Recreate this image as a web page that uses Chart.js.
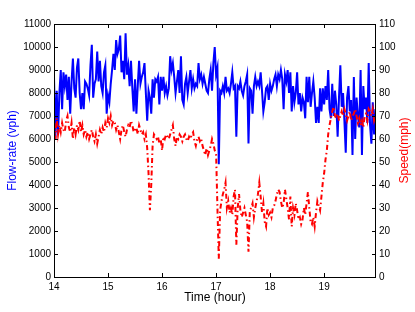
<!DOCTYPE html>
<html>
<head>
<meta charset="utf-8">
<script src="https://cdn.jsdelivr.net/npm/chart.js@4/dist/chart.umd.min.js"></script>
<style>
  html, body { margin: 0; padding: 0; background: #fff; }
  #wrap { width: 415px; height: 312px; }
</style>
</head>
<body>
<div id="wrap"><canvas id="flowChart"></canvas></div>
<script>
// samples every 0.025 h (1.5 min) starting at 14:00
const startHour = 14;
const stepHour = 0.025;

// flow-rate, vph (left axis)
const flow = [
  8700, 6000, 8100, 6200, 8000, 9000, 7300, 8900, 8300, 8800,
  7700, 8700, 7100, 8500, 9500, 8200, 7800, 9100, 9500, 8000,
  7300, 8000, 7300, 8500, 8400, 8200, 7900, 9200, 10100, 7800,
  8400, 8600, 9800, 8500, 9400, 8300, 8000, 8900, 9200, 7100,
  7900, 7600, 8400, 9000, 9700, 9000, 10300, 9700, 9900, 10500,
  8900, 9400, 8600, 10600, 8800, 9200, 8300, 9400, 8200, 7200,
  8600, 7100, 8300, 9400, 8400, 8700, 8900, 9300, 8000, 6800,
  8100, 7800, 7100, 8600, 7800, 8600, 8500, 8700, 7500, 8700,
  8100, 8700, 8000, 8300, 7900, 8200, 9600, 9000, 9300, 8700,
  8000, 8500, 9000, 8000, 9600, 7700, 7500, 8400, 8700, 8000,
  8500, 9000, 8200, 8600, 8200, 8400, 8300, 9300, 8600, 8800,
  8400, 8700, 8400, 8100, 8000, 8600, 9000, 8100, 9300, 10000,
  8800, 9100, 4900, 8100, 8000, 8300, 8000, 8700, 8100, 8200,
  8000, 8400, 8900, 8200, 8300, 6100, 8300, 8200, 8500, 8100,
  7900, 8300, 8500, 8800, 5800, 8200, 8100, 7100, 8300, 8700,
  8300, 8500, 8300, 8900, 8100, 7200, 7600, 8200, 8300, 7700,
  8400, 8100, 8300, 8600, 8800, 8300, 8800, 8600, 9000, 8600,
  7300, 8800, 8500, 9000, 8000, 8900, 7200, 8300, 7600, 8000,
  8900, 7500, 8000, 7200, 7800, 7600, 6900, 8700, 7600, 8700,
  7400, 8000, 8500, 7800, 6700, 7400, 6700, 8200, 7200, 8200,
  7500, 8300, 7700, 9000, 7300, 6900, 8400, 7000, 8100, 7500,
  6100, 7800, 9200, 7400, 8000, 6800, 5400, 7800, 8300, 7200,
  7700, 5300, 8700, 6000, 7800, 7000, 6500, 9000, 5300, 8300,
  7300, 7800, 6700, 9300, 6600, 5800, 7600, 6200, 7300
];

// speed, mph (right axis)
const speed = [
  66, 60, 69, 62, 66, 63, 67, 64, 63, 68,
  70, 65, 63, 67, 60, 65, 62, 66, 64, 68,
  63, 66, 62, 64, 61, 63, 60, 62, 64, 61,
  59, 62, 58, 61, 64, 62, 65, 63, 67, 65,
  69, 67, 70, 66, 68, 67, 64, 66, 63, 60,
  64, 66, 63, 61, 64, 66, 65, 68, 66, 63,
  64, 65, 62, 66, 64, 62, 63, 60, 62, 56,
  45, 29, 40, 57, 62, 61, 60, 61, 58, 60,
  55, 61, 60, 62, 61, 60, 62, 64, 66, 60,
  57, 61, 60, 62, 61, 59, 61, 62, 60, 59,
  61, 60, 62, 63, 59, 57, 60, 61, 59, 60,
  57, 55, 53, 56, 53, 55, 57, 60, 58, 55,
  54, 30, 8, 29, 33, 36, 38, 41, 30, 33,
  28, 30, 27, 35, 38, 14, 30, 36, 29, 26,
  28, 30, 27, 24, 11, 29, 30, 32, 26, 30,
  33, 36, 41, 35, 28, 32, 24, 22, 30, 27,
  28, 26, 30, 31, 33, 36, 38, 37, 33, 30,
  32, 38, 34, 30, 25, 35, 22, 30, 27, 32,
  29, 25, 26, 23, 25, 30, 27, 32, 37, 30,
  24, 23, 26, 22, 28, 33, 31, 29, 35, 41,
  45, 51, 55, 62, 66, 69, 72, 74, 70, 69,
  71, 68, 70, 72, 70, 73, 71, 68, 70, 72,
  68, 70, 71, 73, 70, 67, 69, 66, 68, 65,
  70, 71, 68, 73, 72, 70, 73, 68, 70
];

const xTicks = [14, 15, 16, 17, 18, 19];
const flowTicks = [0, 1000, 2000, 3000, 4000, 5000, 6000, 7000, 8000, 9000, 10000, 11000];
const speedTicks = [0, 10, 20, 30, 40, 50, 60, 70, 80, 90, 100, 110];

const toPoints = arr => arr.map((v, i) => ({ x: startHour + i * stepHour, y: v }));

const FONT = 'Liberation Sans, Arial, Helvetica, sans-serif';
const plain = v => String(v);

// matlab-like box, inward ticks and axis titles
const boxPlugin = {
  id: 'boxPlugin',
  afterDraw(chart) {
    const { ctx, chartArea: a, scales } = chart;
    ctx.save();
    ctx.strokeStyle = '#000';
    ctx.lineWidth = 1;
    ctx.strokeRect(a.left + 0.5, a.top + 0.5, a.right - a.left - 1, a.bottom - a.top);
    ctx.beginPath();
    xTicks.forEach(t => {
      const px = Math.round(scales.x.getPixelForValue(t)) + 0.5;
      ctx.moveTo(px, a.bottom); ctx.lineTo(px, a.bottom - 4);
      ctx.moveTo(px, a.top); ctx.lineTo(px, a.top + 4);
    });
    flowTicks.forEach(t => {
      const py = Math.round(scales.y.getPixelForValue(t)) + 0.5;
      ctx.moveTo(a.left, py); ctx.lineTo(a.left + 4, py);
    });
    speedTicks.forEach(t => {
      const py = Math.round(scales.y1.getPixelForValue(t)) + 0.5;
      ctx.moveTo(a.right, py); ctx.lineTo(a.right - 4, py);
    });
    ctx.stroke();

    ctx.font = '12px ' + FONT;
    ctx.textAlign = 'center';
    ctx.textBaseline = 'middle';
    ctx.fillStyle = '#000';
    ctx.fillText('Time (hour)', (a.left + a.right) / 2, 298);

    ctx.save();
    ctx.translate(13, (a.top + a.bottom) / 2);
    ctx.rotate(-Math.PI / 2);
    ctx.fillStyle = '#0000ff';
    ctx.fillText('Flow-rate (vph)', 0, 0);
    ctx.restore();

    ctx.save();
    ctx.translate(405, (a.top + a.bottom) / 2);
    ctx.rotate(-Math.PI / 2);
    ctx.fillStyle = '#ff0000';
    ctx.fillText('Speed(mph)', 0, 0);
    ctx.restore();
    ctx.restore();
  }
};

new Chart(document.getElementById('flowChart').getContext('2d'), {
  type: 'line',
  data: {
    datasets: [
      {
        label: 'Speed',
        data: toPoints(speed),
        yAxisID: 'y1',
        borderColor: '#ff0000',
        borderWidth: 2,
        borderDash: [5, 3, 1.5, 3],
        pointRadius: 0,
        tension: 0,
        order: 0
      },
      {
        label: 'Flow-rate',
        data: toPoints(flow),
        yAxisID: 'y',
        borderColor: '#0000ff',
        borderWidth: 2,
        pointRadius: 0,
        tension: 0,
        order: 1
      }
    ]
  },
  options: {
    responsive: true,
    maintainAspectRatio: false,
    animation: false,
    layout: { padding: { top: 24, left: 0, right: 0, bottom: 0 } },
    plugins: {
      legend: { display: false },
      tooltip: { enabled: false }
    },
    scales: {
      x: {
        type: 'linear',
        min: 14,
        max: 19.96,
        grid: { display: false, drawTicks: false },
        border: { display: false },
        ticks: {
          stepSize: 1,
          includeBounds: false,
          padding: 4,
          maxRotation: 0,
          color: '#000',
          font: { family: FONT, size: 10 },
          callback: plain
        },
        afterFit(s) { s.height = 35; }
      },
      y: {
        position: 'left',
        min: 0,
        max: 11000,
        grid: { display: false, drawTicks: false },
        border: { display: false },
        ticks: {
          stepSize: 1000,
          padding: 3,
          color: '#000',
          font: { family: FONT, size: 10 },
          callback: plain
        },
        afterFit(s) { s.width = 54; }
      },
      y1: {
        position: 'right',
        min: 0,
        max: 110,
        grid: { display: false, drawTicks: false },
        border: { display: false },
        ticks: {
          stepSize: 10,
          padding: 3,
          color: '#000',
          font: { family: FONT, size: 10 },
          callback: plain
        },
        afterFit(s) { s.width = 39; }
      }
    }
  },
  plugins: [boxPlugin]
});
</script>
</body>
</html>
